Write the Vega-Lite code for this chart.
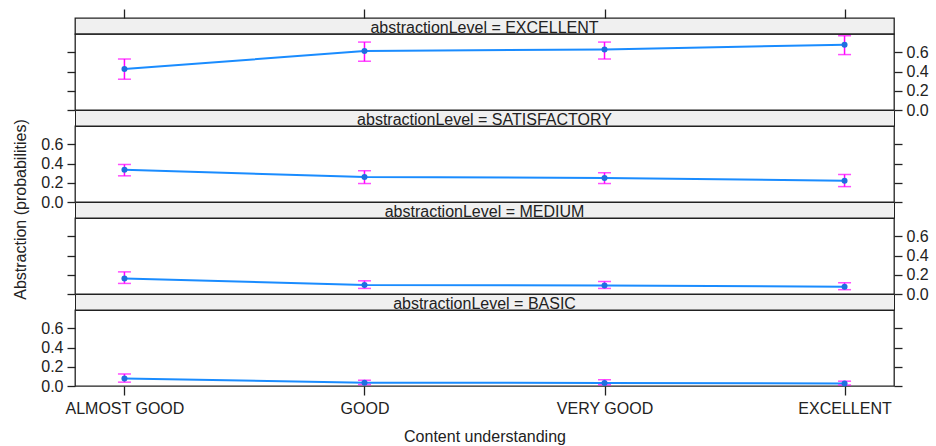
{
  "$schema": "https://vega.github.io/schema/vega-lite/v6.json",
  "padding": {"left": 12, "top": 7, "right": 5, "bottom": 5},
  "background": "white",
  "datasets": {
    "d": [
      {"level": "EXCELLENT", "understanding": "ALMOST GOOD", "k": 1, "fit": 0.427, "lower": 0.32, "upper": 0.53},
      {"level": "EXCELLENT", "understanding": "GOOD", "k": 2, "fit": 0.612, "lower": 0.507, "upper": 0.706},
      {"level": "EXCELLENT", "understanding": "VERY GOOD", "k": 3, "fit": 0.63, "lower": 0.53, "upper": 0.706},
      {"level": "EXCELLENT", "understanding": "EXCELLENT", "k": 4, "fit": 0.679, "lower": 0.576, "upper": 0.772},
      {"level": "SATISFACTORY", "understanding": "ALMOST GOOD", "k": 1, "fit": 0.335, "lower": 0.272, "upper": 0.39},
      {"level": "SATISFACTORY", "understanding": "GOOD", "k": 2, "fit": 0.26, "lower": 0.192, "upper": 0.325},
      {"level": "SATISFACTORY", "understanding": "VERY GOOD", "k": 3, "fit": 0.25, "lower": 0.192, "upper": 0.304},
      {"level": "SATISFACTORY", "understanding": "EXCELLENT", "k": 4, "fit": 0.22, "lower": 0.16, "upper": 0.286},
      {"level": "MEDIUM", "understanding": "ALMOST GOOD", "k": 1, "fit": 0.16, "lower": 0.11, "upper": 0.23},
      {"level": "MEDIUM", "understanding": "GOOD", "k": 2, "fit": 0.094, "lower": 0.058, "upper": 0.137},
      {"level": "MEDIUM", "understanding": "VERY GOOD", "k": 3, "fit": 0.088, "lower": 0.058, "upper": 0.13},
      {"level": "MEDIUM", "understanding": "EXCELLENT", "k": 4, "fit": 0.075, "lower": 0.045, "upper": 0.117},
      {"level": "BASIC", "understanding": "ALMOST GOOD", "k": 1, "fit": 0.078, "lower": 0.04, "upper": 0.125},
      {"level": "BASIC", "understanding": "GOOD", "k": 2, "fit": 0.034, "lower": 0.015, "upper": 0.06},
      {"level": "BASIC", "understanding": "VERY GOOD", "k": 3, "fit": 0.032, "lower": 0.013, "upper": 0.065},
      {"level": "BASIC", "understanding": "EXCELLENT", "k": 4, "fit": 0.025, "lower": 0.01, "upper": 0.05}
    ]
  },
  "spacing": 0,
  "bounds": "flush",
  "vconcat": [
    {
      "width": 819, "height": 16,
      "view": {"fill": "#f0f0f0", "stroke": "#222"},
      "layer": [
        {
          "data": {"values": [{"label": "abstractionLevel = EXCELLENT"}]},
          "mark": {"type": "text", "fontSize": 16, "color": "#222", "dy": 2},
          "encoding": {"text": {"field": "label"}}
        },
        {
          "data": {"name": "d"},
          "transform": [{"filter": "datum.level === 'EXCELLENT'"}],
          "mark": {"type": "point", "opacity": 0},
          "encoding": {
            "x": {"field": "understanding", "type": "nominal", "sort": ["ALMOST GOOD", "GOOD", "VERY GOOD", "EXCELLENT"], "scale": {"type": "point", "padding": 0.206},
              "axis": {"orient": "top", "labels": false, "title": null, "tickSize": 9}}
          }
        }
      ]
    },
    {
      "width": 819, "height": 76,
      "data": {"name": "d"},
      "transform": [{"filter": "datum.level === 'EXCELLENT'"}],
      "encoding": {"x": {"field": "understanding", "type": "nominal", "sort": ["ALMOST GOOD", "GOOD", "VERY GOOD", "EXCELLENT"], "scale": {"type": "point", "padding": 0.206}, "axis": null}},
      "layer": [
        {"layer": [
          {"mark": {"type": "line", "color": "#1a8cff", "strokeWidth": 2},
           "encoding": {"y": {"field": "fit", "type": "quantitative", "scale": {"domain": [0, 0.79], "nice": false, "zero": false},
             "axis": {"orient": "left", "values": [0, 0.2, 0.4, 0.6], "labels": false, "title": null, "tickSize": 8}},
             "order": {"field": "k"}}},
          {"mark": {"type": "rule", "color": "#ff00ff", "strokeWidth": 1.5},
           "encoding": {"y": {"field": "lower", "type": "quantitative", "axis": {"orient": "left", "values": [0, 0.2, 0.4, 0.6], "labels": false, "title": null, "tickSize": 8}}, "y2": {"field": "upper"}}},
          {"mark": {"type": "tick", "color": "#ff00ff", "thickness": 1.5, "size": 13},
           "encoding": {"y": {"field": "lower", "type": "quantitative", "axis": {"orient": "left", "values": [0, 0.2, 0.4, 0.6], "labels": false, "title": null, "tickSize": 8}}}},
          {"mark": {"type": "tick", "color": "#ff00ff", "thickness": 1.5, "size": 13},
           "encoding": {"y": {"field": "upper", "type": "quantitative", "axis": {"orient": "left", "values": [0, 0.2, 0.4, 0.6], "labels": false, "title": null, "tickSize": 8}}}}
        ]},
        {"mark": {"type": "point", "filled": true, "color": "#1f6fe0", "size": 36, "opacity": 1},
         "encoding": {"y": {"field": "fit", "type": "quantitative", "scale": {"domain": [0, 0.79], "nice": false, "zero": false},
           "axis": {"orient": "right", "values": [0, 0.2, 0.4, 0.6], "format": ".1f", "title": null, "tickSize": 8, "labelPadding": 4}}}}
      ],
      "resolve": {"axis": {"y": "independent"}}
    },
    {
      "width": 819, "height": 16,
      "view": {"fill": "#f0f0f0", "stroke": "#222"},
      "data": {"values": [{"label": "abstractionLevel = SATISFACTORY"}]},
      "mark": {"type": "text", "fontSize": 16, "color": "#222", "dy": 2},
      "encoding": {"text": {"field": "label"}}
    },
    {
      "width": 819, "height": 76,
      "data": {"name": "d"},
      "transform": [{"filter": "datum.level === 'SATISFACTORY'"}],
      "encoding": {"x": {"field": "understanding", "type": "nominal", "sort": ["ALMOST GOOD", "GOOD", "VERY GOOD", "EXCELLENT"], "scale": {"type": "point", "padding": 0.206}, "axis": null}},
      "layer": [
        {"layer": [
          {"mark": {"type": "line", "color": "#1a8cff", "strokeWidth": 2},
           "encoding": {"y": {"field": "fit", "type": "quantitative", "scale": {"domain": [0, 0.79], "nice": false, "zero": false},
             "axis": {"orient": "left", "values": [0, 0.2, 0.4, 0.6], "format": ".1f", "title": "Abstraction (probabilities)", "titleY": 83, "titlePadding": 12, "tickSize": 8, "labelPadding": 4}},
             "order": {"field": "k"}}},
          {"mark": {"type": "rule", "color": "#ff00ff", "strokeWidth": 1.5},
           "encoding": {"y": {"field": "lower", "type": "quantitative", "axis": {"orient": "left", "values": [0, 0.2, 0.4, 0.6], "format": ".1f", "title": "Abstraction (probabilities)", "titleY": 83, "titlePadding": 12, "tickSize": 8, "labelPadding": 4}}, "y2": {"field": "upper"}}},
          {"mark": {"type": "tick", "color": "#ff00ff", "thickness": 1.5, "size": 13},
           "encoding": {"y": {"field": "lower", "type": "quantitative", "axis": {"orient": "left", "values": [0, 0.2, 0.4, 0.6], "format": ".1f", "title": "Abstraction (probabilities)", "titleY": 83, "titlePadding": 12, "tickSize": 8, "labelPadding": 4}}}},
          {"mark": {"type": "tick", "color": "#ff00ff", "thickness": 1.5, "size": 13},
           "encoding": {"y": {"field": "upper", "type": "quantitative", "axis": {"orient": "left", "values": [0, 0.2, 0.4, 0.6], "format": ".1f", "title": "Abstraction (probabilities)", "titleY": 83, "titlePadding": 12, "tickSize": 8, "labelPadding": 4}}}}
        ]},
        {"mark": {"type": "point", "filled": true, "color": "#1f6fe0", "size": 36, "opacity": 1},
         "encoding": {"y": {"field": "fit", "type": "quantitative", "scale": {"domain": [0, 0.79], "nice": false, "zero": false},
           "axis": {"orient": "right", "values": [0, 0.2, 0.4, 0.6], "labels": false, "title": null, "tickSize": 8}}}}
      ],
      "resolve": {"axis": {"y": "independent"}}
    },
    {
      "width": 819, "height": 16,
      "view": {"fill": "#f0f0f0", "stroke": "#222"},
      "data": {"values": [{"label": "abstractionLevel = MEDIUM"}]},
      "mark": {"type": "text", "fontSize": 16, "color": "#222", "dy": 2},
      "encoding": {"text": {"field": "label"}}
    },
    {
      "width": 819, "height": 76,
      "data": {"name": "d"},
      "transform": [{"filter": "datum.level === 'MEDIUM'"}],
      "encoding": {"x": {"field": "understanding", "type": "nominal", "sort": ["ALMOST GOOD", "GOOD", "VERY GOOD", "EXCELLENT"], "scale": {"type": "point", "padding": 0.206}, "axis": null}},
      "layer": [
        {"layer": [
          {"mark": {"type": "line", "color": "#1a8cff", "strokeWidth": 2},
           "encoding": {"y": {"field": "fit", "type": "quantitative", "scale": {"domain": [0, 0.79], "nice": false, "zero": false},
             "axis": {"orient": "left", "values": [0, 0.2, 0.4, 0.6], "labels": false, "title": null, "tickSize": 8}},
             "order": {"field": "k"}}},
          {"mark": {"type": "rule", "color": "#ff00ff", "strokeWidth": 1.5},
           "encoding": {"y": {"field": "lower", "type": "quantitative", "axis": {"orient": "left", "values": [0, 0.2, 0.4, 0.6], "labels": false, "title": null, "tickSize": 8}}, "y2": {"field": "upper"}}},
          {"mark": {"type": "tick", "color": "#ff00ff", "thickness": 1.5, "size": 13},
           "encoding": {"y": {"field": "lower", "type": "quantitative", "axis": {"orient": "left", "values": [0, 0.2, 0.4, 0.6], "labels": false, "title": null, "tickSize": 8}}}},
          {"mark": {"type": "tick", "color": "#ff00ff", "thickness": 1.5, "size": 13},
           "encoding": {"y": {"field": "upper", "type": "quantitative", "axis": {"orient": "left", "values": [0, 0.2, 0.4, 0.6], "labels": false, "title": null, "tickSize": 8}}}}
        ]},
        {"mark": {"type": "point", "filled": true, "color": "#1f6fe0", "size": 36, "opacity": 1},
         "encoding": {"y": {"field": "fit", "type": "quantitative", "scale": {"domain": [0, 0.79], "nice": false, "zero": false},
           "axis": {"orient": "right", "values": [0, 0.2, 0.4, 0.6], "format": ".1f", "title": null, "tickSize": 8, "labelPadding": 4}}}}
      ],
      "resolve": {"axis": {"y": "independent"}}
    },
    {
      "width": 819, "height": 16,
      "view": {"fill": "#f0f0f0", "stroke": "#222"},
      "data": {"values": [{"label": "abstractionLevel = BASIC"}]},
      "mark": {"type": "text", "fontSize": 16, "color": "#222", "dy": 2},
      "encoding": {"text": {"field": "label"}}
    },
    {
      "width": 819, "height": 76,
      "data": {"name": "d"},
      "transform": [{"filter": "datum.level === 'BASIC'"}],
      "encoding": {"x": {"field": "understanding", "type": "nominal", "sort": ["ALMOST GOOD", "GOOD", "VERY GOOD", "EXCELLENT"], "scale": {"type": "point", "padding": 0.206},
        "axis": {"orient": "bottom", "title": "Content understanding", "labelAngle": 0, "tickSize": 9, "labelPadding": 5, "titlePadding": 12}}},
      "layer": [
        {"layer": [
          {"mark": {"type": "line", "color": "#1a8cff", "strokeWidth": 2},
           "encoding": {"y": {"field": "fit", "type": "quantitative", "scale": {"domain": [0, 0.79], "nice": false, "zero": false},
             "axis": {"orient": "left", "values": [0, 0.2, 0.4, 0.6], "format": ".1f", "title": null, "tickSize": 8, "labelPadding": 4}},
             "order": {"field": "k"}}},
          {"mark": {"type": "rule", "color": "#ff00ff", "strokeWidth": 1.5},
           "encoding": {"y": {"field": "lower", "type": "quantitative", "axis": {"orient": "left", "values": [0, 0.2, 0.4, 0.6], "format": ".1f", "title": null, "tickSize": 8, "labelPadding": 4}}, "y2": {"field": "upper"}}},
          {"mark": {"type": "tick", "color": "#ff00ff", "thickness": 1.5, "size": 13},
           "encoding": {"y": {"field": "lower", "type": "quantitative", "axis": {"orient": "left", "values": [0, 0.2, 0.4, 0.6], "format": ".1f", "title": null, "tickSize": 8, "labelPadding": 4}}}},
          {"mark": {"type": "tick", "color": "#ff00ff", "thickness": 1.5, "size": 13},
           "encoding": {"y": {"field": "upper", "type": "quantitative", "axis": {"orient": "left", "values": [0, 0.2, 0.4, 0.6], "format": ".1f", "title": null, "tickSize": 8, "labelPadding": 4}}}}
        ]},
        {"mark": {"type": "point", "filled": true, "color": "#1f6fe0", "size": 36, "opacity": 1},
         "encoding": {"y": {"field": "fit", "type": "quantitative", "scale": {"domain": [0, 0.79], "nice": false, "zero": false},
           "axis": {"orient": "right", "values": [0, 0.2, 0.4, 0.6], "labels": false, "title": null, "tickSize": 8}}}}
      ],
      "resolve": {"axis": {"y": "independent"}}
    }
  ],
  "config": {
    "font": "Liberation Sans",
    "view": {"stroke": "#222", "strokeWidth": 1.3},
    "axis": {"labelFont": "Liberation Sans", "labelFontSize": 16, "labelColor": "#222", "labelOverlap": false, "tickColor": "#222", "tickWidth": 1.3, "domain": false, "grid": false,
      "titleFont": "Liberation Sans", "titleFontWeight": "normal", "titleFontSize": 16, "titleColor": "#222"}
  }
}
